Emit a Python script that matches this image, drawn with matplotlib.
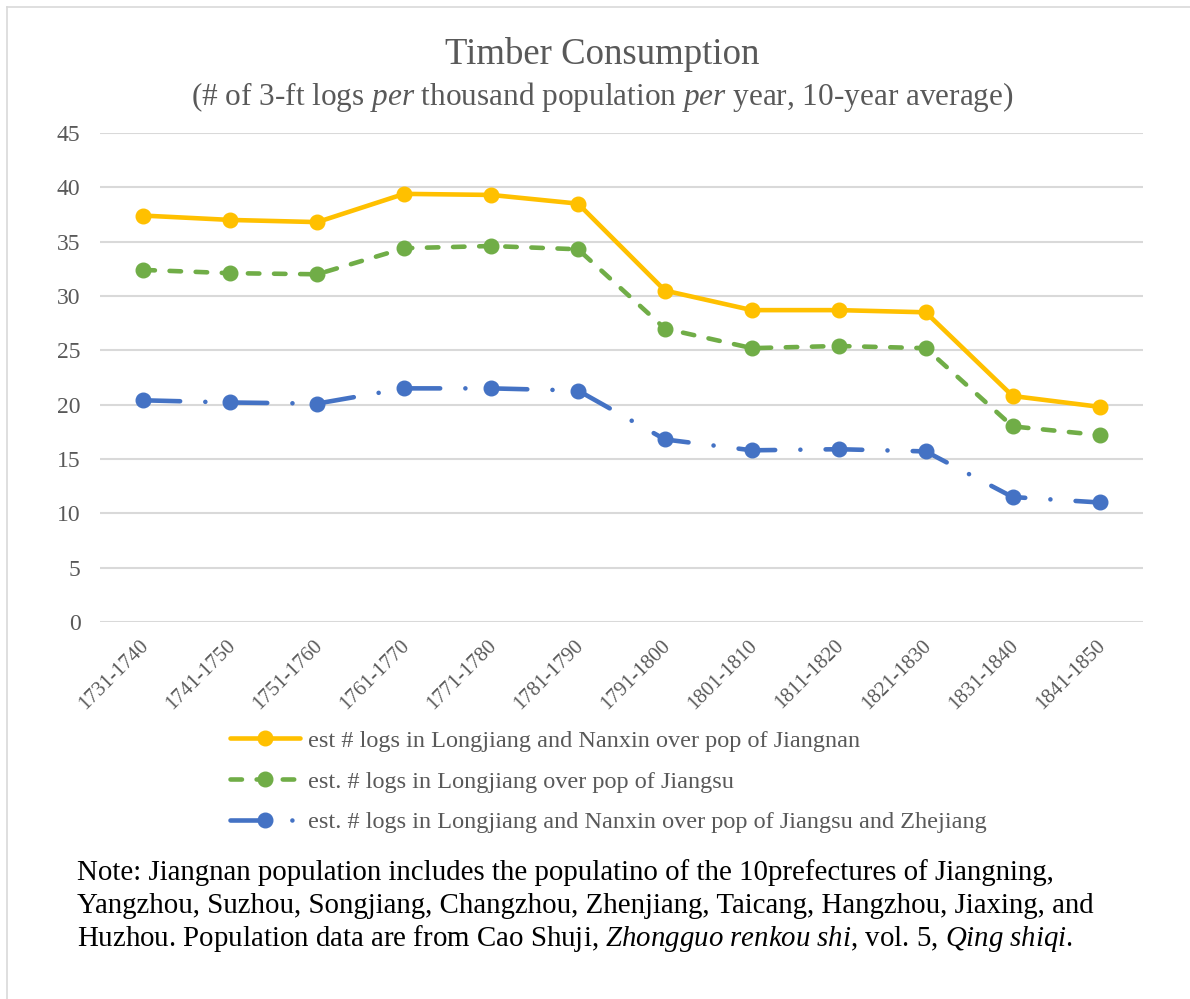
import matplotlib
matplotlib.use("Agg")
import matplotlib.pyplot as plt
from matplotlib.lines import Line2D
from matplotlib.transforms import ScaledTranslation

plt.rcParams['font.family'] = ['Liberation Serif', 'DejaVu Serif']
plt.rcParams['mathtext.fontset'] = 'custom'
plt.rcParams['mathtext.rm'] = 'Liberation Serif'
plt.rcParams['mathtext.it'] = 'Liberation Serif:italic'

decades = ["1731-1740", "1741-1750", "1751-1760", "1761-1770", "1771-1780", "1781-1790",
           "1791-1800", "1801-1810", "1811-1820", "1821-1830", "1831-1840", "1841-1850"]
jiangnan = [37.4, 37.0, 36.8, 39.4, 39.3, 38.5, 30.5, 28.7, 28.7, 28.5, 20.8, 19.8]
jiangsu = [32.4, 32.1, 32.0, 34.4, 34.6, 34.3, 27.0, 25.2, 25.4, 25.2, 18.0, 17.2]
jiangsu_zhejiang = [20.4, 20.2, 20.1, 21.5, 21.5, 21.3, 16.8, 15.8, 15.9, 15.7, 11.5, 11.0]

labels = ["est # logs in Longjiang and Nanxin over pop of Jiangnan",
          "est. # logs in Longjiang over pop of Jiangsu",
          "est. # logs in Longjiang and Nanxin over pop of Jiangsu and Zhejiang"]

grey = "#595959"
fig = plt.figure(figsize=(11.9, 9.99), dpi=100)
ax = fig.add_axes([100 / 1190, 1 - 622 / 999, 1043 / 1190, 489 / 999])

x = range(len(decades))
ax.plot(x, jiangnan, color="#FFC000", lw=3.3, marker="o", ms=10.5,
        solid_capstyle="round", label=labels[0])
ax.plot(x, jiangsu, color="#70AD47", lw=3.3, marker="o", ms=10.5,
        linestyle=(0, (2.5, 3.2)), dash_capstyle="round", label=labels[1])
ax.plot(x, jiangsu_zhejiang, color="#4472C4", lw=3.3, marker="o", ms=10.5,
        linestyle=(0, (8, 5.5, 0.01, 5.5)), dash_capstyle="round", label=labels[2])

ax.set_xlim(-0.5, len(decades) - 0.5)
ax.set_ylim(0, 45)
ax.set_yticks(range(0, 46, 5))
ax.grid(axis="y", color="#D9D9D9", lw=1.5)
ax.set_axisbelow(True)
for s in ax.spines.values():
    s.set_visible(False)
ax.tick_params(length=0, labelcolor=grey)
ax.tick_params(axis="y", labelsize=17, pad=14)
ax.set_xticks(list(x))
ax.set_xticklabels(decades, rotation=45, ha="right", va="top", rotation_mode="anchor")
ax.tick_params(axis="x", labelsize=15, pad=14)
for lab in ax.get_xticklabels():
    lab.set_transform(lab.get_transform() + ScaledTranslation(-0.04, 0.05, fig.dpi_scale_trans))

fig.text(602 / 1190, 1 - 55 / 999, "Timber Consumption", ha="center", va="center",
         fontsize=26.5, color=grey)
fig.text(602 / 1190, 1 - 97 / 999,
         r"(# of 3-ft logs $\mathit{per}$ thousand population $\mathit{per}$ year, 10-year average)",
         ha="center", va="center", fontsize=22.5, color=grey)

fig.legend(loc="upper left", bbox_to_anchor=(208 / 1190, 1 - 708 / 999), frameon=False,
           fontsize=17.5, labelcolor=grey, handlelength=2.9, labelspacing=0.77,
           handletextpad=0.33)

note = ["Note: Jiangnan population includes the populatino of the 10prefectures of Jiangning,",
        "Yangzhou, Suzhou, Songjiang, Changzhou, Zhenjiang, Taicang, Hangzhou, Jiaxing, and",
        r"Huzhou. Population data are from Cao Shuji, $\mathit{Zhongguo\ renkou\ shi}$, vol. 5, $\mathit{Qing\ shiqi}$."]
for i, line in enumerate(note):
    fig.text(77 / 1190, 1 - (873 + 33 * i) / 999, line, ha="left", va="center",
             fontsize=20.8, color="black")

fig.add_artist(Line2D([7 / 1190, 7 / 1190], [0, 1 - 7 / 999], color="#D9D9D9", lw=1.2))
fig.add_artist(Line2D([7 / 1190, 1], [1 - 7 / 999, 1 - 7 / 999], color="#D9D9D9", lw=1.2))

fig.savefig("out.png", dpi=100)
